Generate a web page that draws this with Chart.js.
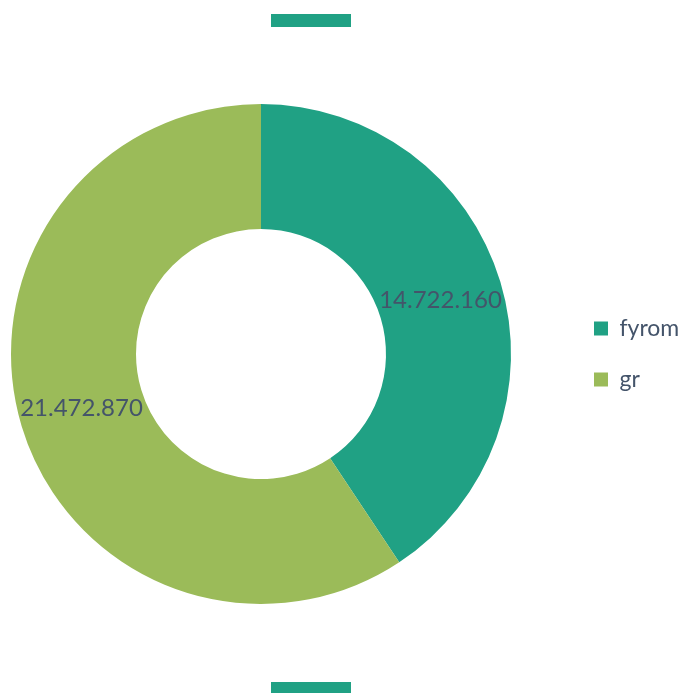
<!DOCTYPE html>
<html lang="en">
<head>
  <meta charset="UTF-8">
  <title>fyrom / gr</title>
  <script src="https://cdn.jsdelivr.net/npm/chart.js"></script>
  <style>
    html, body { margin: 0; padding: 0; background: #fff; }
    #wrap { width: 686px; height: 693px; position: relative; overflow: hidden; }
    #pieChart { position: absolute; left: -44px; top: 0; }
  </style>
</head>
<body>
  <div id="wrap"><canvas id="pieChart" width="730" height="693"></canvas></div>

  <script>
    const labels = ['fyrom', 'gr'];
    const values = [14722160, 21472870];
    const colors = ['#20a184', '#9bbb59'];

    const textColor = '#44546a';
    const fontFam = 'Lato, "Open Sans", sans-serif';
    const shiftX = 44; // canvas sola kaydırıldı

    // sayıları noktalı binlik ayraçla yaz
    function fmt(n) {
      return String(n).replace(/\B(?=(\d{3})+(?!\d))/g, '.');
    }

    const sliceLabels = {
      id: 'sliceLabels',
      afterDatasetsDraw(chart) {
        const ctx = chart.ctx;
        const meta = chart.getDatasetMeta(0);
        ctx.save();
        ctx.font = '24px ' + fontFam;
        ctx.fillStyle = textColor;
        ctx.textAlign = 'center';
        ctx.textBaseline = 'middle';
        meta.data.forEach((arc, i) => {
          const p = arc.tooltipPosition();
          ctx.fillText(fmt(values[i]), p.x, p.y);
        });
        ctx.restore();
      }
    };

    // üst ve alt dekoratif şeritler
    const bars = {
      id: 'bars',
      afterDraw(chart) {
        const ctx = chart.ctx;
        ctx.save();
        ctx.fillStyle = colors[0];
        ctx.fillRect(271 + shiftX, 14, 80, 13);
        ctx.fillRect(271 + shiftX, 682, 80, 12);
        ctx.restore();
      }
    };

    new Chart(document.getElementById('pieChart'), {
      type: 'doughnut',
      data: {
        labels: labels,
        datasets: [{
          data: values,
          backgroundColor: colors,
          borderWidth: 0
        }]
      },
      options: {
        responsive: false,
        animation: false,
        cutout: '50%',
        layout: { padding: { top: 104, bottom: 89, left: 0, right: 0 } },
        plugins: {
          legend: {
            position: 'right',
            maxWidth: 120,
            labels: {
              boxWidth: 14,
              boxHeight: 14,
              padding: 28,
              color: textColor,
              font: { size: 23, family: fontFam }
            }
          },
          tooltip: { enabled: false }
        }
      },
      plugins: [sliceLabels, bars]
    });
  </script>
</body>
</html>
